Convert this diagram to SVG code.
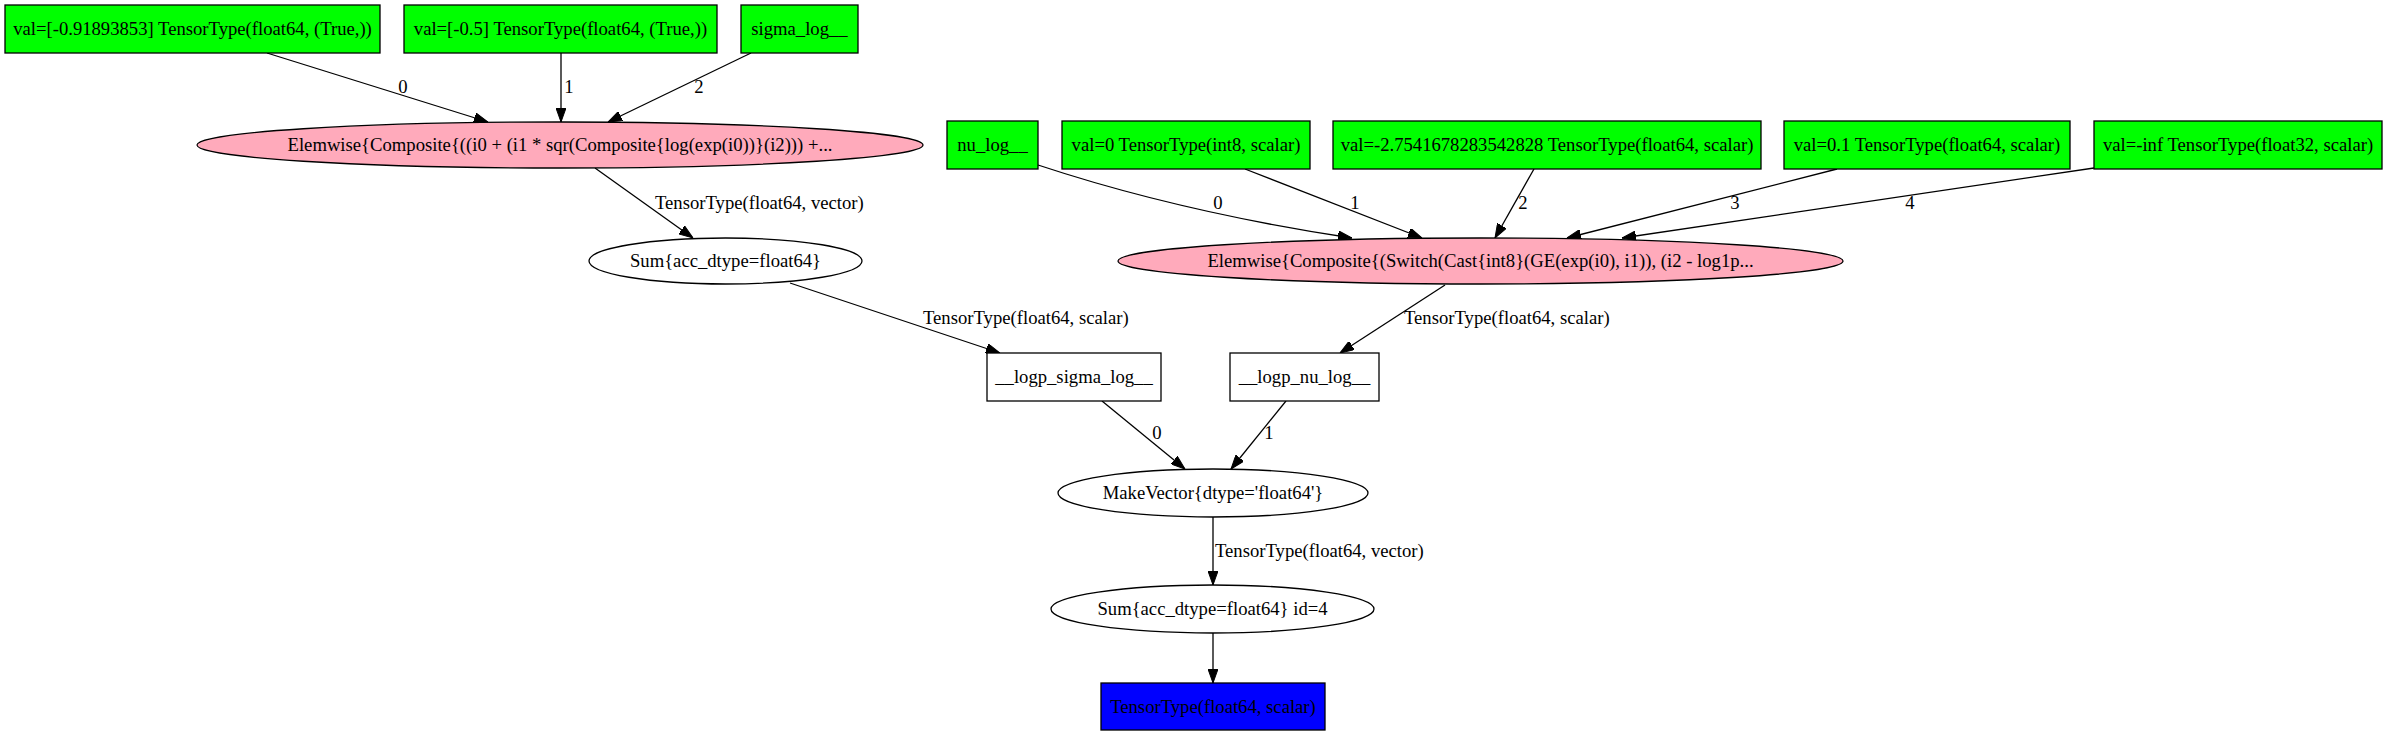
<svg xmlns="http://www.w3.org/2000/svg" width="2387" height="736" viewBox="0 0 2387 736">
<style>
text{font-family:"Liberation Serif","Times New Roman",serif;font-size:18.67px;fill:#000;}
.n text{text-anchor:middle;}
.inp{fill:#00ff00;stroke:#000;stroke-width:1.3;}
.ew{fill:#ffaabb;stroke:#000;stroke-width:1.3;}
.plain{fill:#fff;stroke:#000;stroke-width:1.3;}
.out{fill:#0000ff;stroke:#000;stroke-width:1.3;}
.e path{fill:none;stroke:#000;stroke-width:1.3;marker-end:url(#ah);}
.lbl{text-anchor:middle;}
.lbs{text-anchor:start;}
</style>
<defs>
<marker id="ah" viewBox="0 0 14 10" refX="14" refY="5" markerWidth="14" markerHeight="10" markerUnits="userSpaceOnUse" orient="auto">
<path d="M0,0 L14,5 L0,10 z" fill="#000" stroke="#000" stroke-width="1"/>
</marker>
</defs>
<rect width="2387" height="736" fill="#fff"/>

<g id="connectors" class="e">
<path d="M267,53 L488,122"/>
<text class="lbl" x="403" y="93">0</text>
<path d="M561,53 L561,122"/>
<text class="lbl" x="569" y="93">1</text>
<path d="M751,53 L608,122"/>
<text class="lbl" x="699" y="93">2</text>
<path d="M595,168 L693,238"/>
<text class="lbs" x="655" y="209">TensorType(float64, vector)</text>
<path d="M790,283 L1000,353"/>
<text class="lbs" x="923" y="324">TensorType(float64, scalar)</text>
<path d="M1038,165 Q1180,212 1352,238"/>
<text class="lbl" x="1218" y="209">0</text>
<path d="M1245,169 L1422,238"/>
<text class="lbl" x="1355" y="209">1</text>
<path d="M1534,169 L1495,238"/>
<text class="lbl" x="1523" y="209">2</text>
<path d="M1837,169 L1567,238"/>
<text class="lbl" x="1735" y="209">3</text>
<path d="M2094,168 L1622,238"/>
<text class="lbl" x="1910" y="209">4</text>
<path d="M1445,285 L1340,353"/>
<text class="lbs" x="1404" y="324">TensorType(float64, scalar)</text>
<path d="M1102,401 L1185,469"/>
<text class="lbl" x="1157" y="439">0</text>
<path d="M1286,401 L1231,469"/>
<text class="lbl" x="1269" y="439">1</text>
<path d="M1213,517 L1213,585"/>
<text class="lbs" x="1215" y="557">TensorType(float64, vector)</text>
<path d="M1213,633 L1213,683"/>
</g>

<g id="n_val_m0918" class="n"><rect class="inp" x="5" y="5" width="375" height="48"/><text x="192.5" y="35">val=[-0.91893853] TensorType(float64, (True,))</text></g>
<g id="n_val_m05" class="n"><rect class="inp" x="404" y="5" width="313" height="48"/><text x="560.5" y="35">val=[-0.5] TensorType(float64, (True,))</text></g>
<g id="n_sigma_log" class="n"><rect class="inp" x="741" y="5" width="117" height="48"/><text x="799.5" y="35">sigma_log__</text></g>

<g id="n_elemwise1" class="n"><ellipse class="ew" cx="560" cy="145" rx="363" ry="23"/><text x="560" y="151">Elemwise{Composite{((i0 + (i1 * sqr(Composite{log(exp(i0))}(i2))) +...</text></g>

<g id="n_nu_log" class="n"><rect class="inp" x="947" y="121" width="91" height="48"/><text x="992.5" y="151">nu_log__</text></g>
<g id="n_val0" class="n"><rect class="inp" x="1062" y="121" width="248" height="48"/><text x="1186" y="151">val=0 TensorType(int8, scalar)</text></g>
<g id="n_val_m275" class="n"><rect class="inp" x="1333" y="121" width="428" height="48"/><text x="1547" y="151">val=-2.7541678283542828 TensorType(float64, scalar)</text></g>
<g id="n_val01" class="n"><rect class="inp" x="1784" y="121" width="286" height="48"/><text x="1927" y="151">val=0.1 TensorType(float64, scalar)</text></g>
<g id="n_val_minf" class="n"><rect class="inp" x="2094" y="121" width="288" height="48"/><text x="2238" y="151">val=-inf TensorType(float32, scalar)</text></g>

<g id="n_sum1" class="n"><ellipse class="plain" cx="725.5" cy="261" rx="136.5" ry="23"/><text x="725.5" y="267">Sum{acc_dtype=float64}</text></g>
<g id="n_elemwise2" class="n"><ellipse class="ew" cx="1480.5" cy="261" rx="362.5" ry="23"/><text x="1480.5" y="267">Elemwise{Composite{(Switch(Cast{int8}(GE(exp(i0), i1)), (i2 - log1p...</text></g>

<g id="n_logp_sigma" class="n"><rect class="plain" x="987" y="353" width="174" height="48"/><text x="1074" y="383">__logp_sigma_log__</text></g>
<g id="n_logp_nu" class="n"><rect class="plain" x="1230" y="353" width="149" height="48"/><text x="1304.5" y="383">__logp_nu_log__</text></g>

<g id="n_makevector" class="n"><ellipse class="plain" cx="1213" cy="493" rx="155" ry="24"/><text x="1213" y="499">MakeVector{dtype='float64'}</text></g>
<g id="n_sum4" class="n"><ellipse class="plain" cx="1212.5" cy="609" rx="161.5" ry="24"/><text x="1212.5" y="615">Sum{acc_dtype=float64} id=4</text></g>
<g id="n_output" class="n"><rect class="out" x="1101" y="683" width="224" height="47"/><text x="1213" y="713">TensorType(float64, scalar)</text></g>
</svg>
